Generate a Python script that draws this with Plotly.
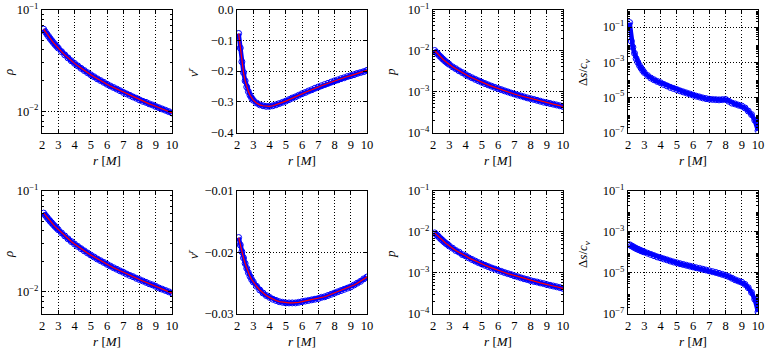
import plotly.graph_objects as go
from plotly.subplots import make_subplots

# radial grid [M]
r = [2.1, 2.2, 2.3, 2.4, 2.5, 2.6, 2.7, 2.8, 2.9, 3.0,
     3.2, 3.4, 3.6, 3.8, 4.0, 4.2, 4.4, 4.6, 4.8, 5.0,
     5.2, 5.4, 5.6, 5.8, 6.0, 6.2, 6.4, 6.6, 6.8, 7.0,
     7.2, 7.4, 7.6, 7.8, 8.0, 8.2, 8.4, 8.6, 8.8, 9.0,
     9.2, 9.4, 9.6, 9.8, 10.0]

# top row
rho_top = [0.0640, 0.0605, 0.0573, 0.0545, 0.0518, 0.0494, 0.0472, 0.0452, 0.0434, 0.0417,
           0.0385, 0.0358, 0.0334, 0.0313, 0.0295, 0.0279, 0.0264, 0.0251, 0.0239, 0.0228,
           0.0218, 0.0208, 0.0200, 0.0192, 0.0184, 0.0177, 0.0171, 0.0165, 0.0159, 0.0153,
           0.0148, 0.0143, 0.0138, 0.0134, 0.0129, 0.0125, 0.0122, 0.0118, 0.0115, 0.0111,
           0.0108, 0.0105, 0.0102, 0.0099, 0.0096]
vr_top = [-0.078, -0.125, -0.170, -0.205, -0.232, -0.252, -0.267, -0.279, -0.288, -0.295,
          -0.304, -0.310, -0.313, -0.315, -0.315, -0.313, -0.310, -0.306, -0.302, -0.298,
          -0.293, -0.288, -0.284, -0.279, -0.274, -0.270, -0.265, -0.261, -0.256, -0.252,
          -0.248, -0.244, -0.240, -0.236, -0.232, -0.229, -0.225, -0.222, -0.218, -0.215,
          -0.212, -0.208, -0.205, -0.202, -0.198]
p_top = [0.0100, 0.0090, 0.0082, 0.0074, 0.0068, 0.0062, 0.0057, 0.0053, 0.0049, 0.0046,
         0.0040, 0.0036, 0.0032, 0.0029, 0.0026, 0.00236, 0.00216, 0.00198, 0.00182, 0.00168,
         0.00156, 0.00145, 0.00135, 0.00126, 0.00118, 0.00111, 0.00104, 0.00098, 0.00092, 0.00087,
         0.00082, 0.00078, 0.00074, 0.00070, 0.00067, 0.00064, 0.00061, 0.00058, 0.00055, 0.00053,
         0.00051, 0.00049, 0.00047, 0.00045, 0.00043]
ds_top = [1.8e-1, 1.6e-2, 7.1e-3, 3.2e-3, 1.6e-3, 1.0e-3, 6.6e-4, 4.7e-4, 3.4e-4, 2.6e-4,
          1.74e-4, 1.26e-4, 1.0e-4, 8.1e-5, 6.8e-5, 5.4e-5, 4.5e-5, 3.7e-5, 3.2e-5, 2.75e-5,
          2.34e-5, 2.04e-5, 1.78e-5, 1.55e-5, 1.35e-5, 1.17e-5, 1.05e-5, 9.3e-6, 8.5e-6, 7.9e-6,
          7.6e-6, 7.4e-6, 7.2e-6, 7.4e-6, 7.6e-6, 6.0e-6, 4.7e-6, 4.2e-6, 3.6e-6, 3.2e-6,
          2.5e-6, 1.66e-6, 1.05e-6, 5.0e-7, 1.26e-7]

# bottom row
rho_bot = [0.0600, 0.0572, 0.0546, 0.0522, 0.0500, 0.0480, 0.0461, 0.0443, 0.0427, 0.0411,
           0.0382, 0.0357, 0.0334, 0.0314, 0.0297, 0.0281, 0.0267, 0.0254, 0.0242, 0.0231,
           0.0221, 0.0211, 0.0203, 0.0195, 0.0187, 0.0180, 0.0173, 0.0167, 0.0161, 0.0156,
           0.0150, 0.0145, 0.0141, 0.0136, 0.0132, 0.0128, 0.0124, 0.0120, 0.0117, 0.0113,
           0.0109, 0.0106, 0.0103, 0.0100, 0.0097]
vr_bot = [-0.0176, -0.0188, -0.0199, -0.0209, -0.0218, -0.0226, -0.0233, -0.0239, -0.0244, -0.0248,
          -0.0255, -0.0261, -0.0266, -0.0270, -0.0273, -0.0276, -0.0278, -0.0280, -0.0281, -0.0282,
          -0.0282, -0.0282, -0.0282, -0.0281, -0.0280, -0.0279, -0.0278, -0.0277, -0.0276, -0.0275,
          -0.0273, -0.0272, -0.0270, -0.0268, -0.0266, -0.0264, -0.0262, -0.0260, -0.0258, -0.0256,
          -0.0253, -0.0250, -0.0247, -0.0243, -0.0240]
p_bot = [0.0094, 0.0086, 0.0079, 0.0072, 0.0066, 0.0061, 0.0056, 0.0052, 0.0049, 0.0045,
         0.0040, 0.0035, 0.0032, 0.0028, 0.0026, 0.00232, 0.00212, 0.00194, 0.00178, 0.00165,
         0.00153, 0.00142, 0.00132, 0.00124, 0.00116, 0.00109, 0.00102, 0.00096, 0.00091, 0.00085,
         0.00081, 0.00076, 0.00072, 0.00069, 0.00065, 0.00062, 0.00060, 0.00057, 0.00055, 0.00052,
         0.00050, 0.00048, 0.00046, 0.00044, 0.00042]
ds_bot = [2.34e-4, 2.09e-4, 1.9e-4, 1.7e-4, 1.55e-4, 1.41e-4, 1.32e-4, 1.2e-4, 1.12e-4, 1.05e-4,
          9.1e-5, 7.9e-5, 6.9e-5, 6.0e-5, 5.4e-5, 4.8e-5, 4.3e-5, 3.8e-5, 3.4e-5, 3.1e-5,
          2.8e-5, 2.57e-5, 2.34e-5, 2.14e-5, 1.95e-5, 1.78e-5, 1.66e-5, 1.51e-5, 1.38e-5, 1.26e-5,
          1.15e-5, 1.05e-5, 9.5e-6, 8.5e-6, 7.6e-6, 6.6e-6, 5.5e-6, 4.6e-6, 4.0e-6, 3.5e-6,
          2.75e-6, 1.9e-6, 1.12e-6, 5.2e-7, 1.26e-7]

x_ticks = [2, 3, 4, 5, 6, 7, 8, 9, 10]

FONT = "Liberation Serif"
BLUE = "#0000ff"
RED = "#ff0000"
W, H = 765, 349

x_domains = [[42/W, 172/W], [237/W, 367/W], [433/W, 563/W], [628/W, 758/W]]
y_domains = [[1 - 132.5/H, 1 - 9.5/H], [1 - 314/H, 1 - 190.7/H]]
# y-title centres (pixels from left) per column, and row centres (pixels from top)
ytitle_x = [8, 193, 390, 583]
ytitle_y = [72, 254]


def pow_label(e):
    return "10<sup>−%d</sup>" % (-e)


def log_minor(e_lo, e_hi):
    vals = []
    for e in range(e_lo, e_hi):
        for k in range(2, 10):
            vals.append(k * 10.0 ** e)
    return vals


panels = [
    (1, 1, rho_top, True, "<i>ρ</i>", dict(type="log", range=[-2.21, -1.0], exps=[-1, -2], minor=(-3, -1))),
    (1, 2, vr_top, True, "<i>v</i><sup><i>r</i></sup>",
     dict(type="linear", range=[-0.4, 0.0], vals=[0.0, -0.1, -0.2, -0.3, -0.4],
          text=["0.0", "−0.1", "−0.2", "−0.3", "−0.4"])),
    (1, 3, p_top, True, "<i>p</i>", dict(type="log", range=[-4, -1], exps=[-1, -2, -3, -4], minor=(-4, -1))),
    (1, 4, ds_top, False, "Δ<i>s</i>/<i>c</i><sub><i>v</i></sub>",
     dict(type="log", range=[-7, 0], exps=[-1, -3, -5, -7], minor=(-7, 0))),
    (2, 1, rho_bot, True, "<i>ρ</i>", dict(type="log", range=[-2.22, -1.0], exps=[-1, -2], minor=(-3, -1))),
    (2, 2, vr_bot, True, "<i>v</i><sup><i>r</i></sup>",
     dict(type="linear", range=[-0.03, -0.01], vals=[-0.01, -0.02, -0.03],
          text=["−0.01", "−0.02", "−0.03"])),
    (2, 3, p_bot, True, "<i>p</i>", dict(type="log", range=[-4, -1], exps=[-1, -2, -3, -4], minor=(-4, -1))),
    (2, 4, ds_bot, False, "Δ<i>s</i>/<i>c</i><sub><i>v</i></sub>",
     dict(type="log", range=[-7, -1], exps=[-1, -3, -5, -7], minor=(-7, -1))),
]

fig = make_subplots(rows=2, cols=4)

common_axis = dict(
    showline=True, linecolor="black", linewidth=1, mirror="allticks",
    ticks="inside", ticklen=4, tickwidth=0.8, tickcolor="black",
    showgrid=True, gridcolor="black", gridwidth=0.6, griddash="1px,2px",
    zeroline=False, automargin=False,
    tickfont=dict(family=FONT, size=12.5, color="black"),
)

for row, col, vals, with_line, ytitle, spec in panels:
    # dense band of simulation points
    fig.add_trace(go.Scatter(
        x=r, y=vals, mode="lines", line=dict(color=BLUE, width=4.5),
        showlegend=False, hoverinfo="skip"), row=row, col=col)
    fig.add_trace(go.Scatter(
        x=r, y=vals, mode="markers",
        marker=dict(symbol="circle-open", size=6, color=BLUE, line=dict(width=1, color=BLUE)),
        showlegend=False, hoverinfo="skip"), row=row, col=col)
    if with_line:
        fig.add_trace(go.Scatter(
            x=r, y=vals, mode="lines", line=dict(color=RED, width=1.2),
            showlegend=False, hoverinfo="skip"), row=row, col=col)

    fig.update_xaxes(
        domain=x_domains[col - 1], range=[2, 10], tickmode="array",
        tickvals=x_ticks, ticktext=[str(t) for t in x_ticks],
        title=dict(text="<i>r</i> [<i>M</i>]", font=dict(family=FONT, size=13, color="black"), standoff=5),
        row=row, col=col, **common_axis)

    yargs = dict(common_axis)
    if spec["type"] == "log":
        exps = spec["exps"]
        yargs.update(
            type="log", range=spec["range"], tickmode="array",
            tickvals=[10.0 ** e for e in exps], ticktext=[pow_label(e) for e in exps],
            minor=dict(tickmode="array", tickvals=log_minor(*spec["minor"]),
                       ticks="inside", ticklen=2, tickwidth=0.6, tickcolor="black", showgrid=False),
        )
    else:
        yargs.update(type="linear", range=spec["range"], tickmode="array",
                     tickvals=spec["vals"], ticktext=spec["text"])
    fig.update_yaxes(domain=y_domains[row - 1], row=row, col=col, **yargs)

    # y-axis title as rotated text beside the tick labels
    fig.add_annotation(
        text=ytitle, xref="paper", yref="paper",
        x=ytitle_x[col - 1] / W, y=1 - ytitle_y[row - 1] / H,
        xanchor="center", yanchor="middle", textangle=-90, showarrow=False,
        font=dict(family=FONT, size=13, color="black"))

fig.update_layout(
    width=W, height=H,
    margin=dict(l=0, r=0, t=0, b=0),
    paper_bgcolor="white", plot_bgcolor="white",
    font=dict(family=FONT, size=12.5, color="black"),
    showlegend=False,
)

fig.write_html("out.html")
